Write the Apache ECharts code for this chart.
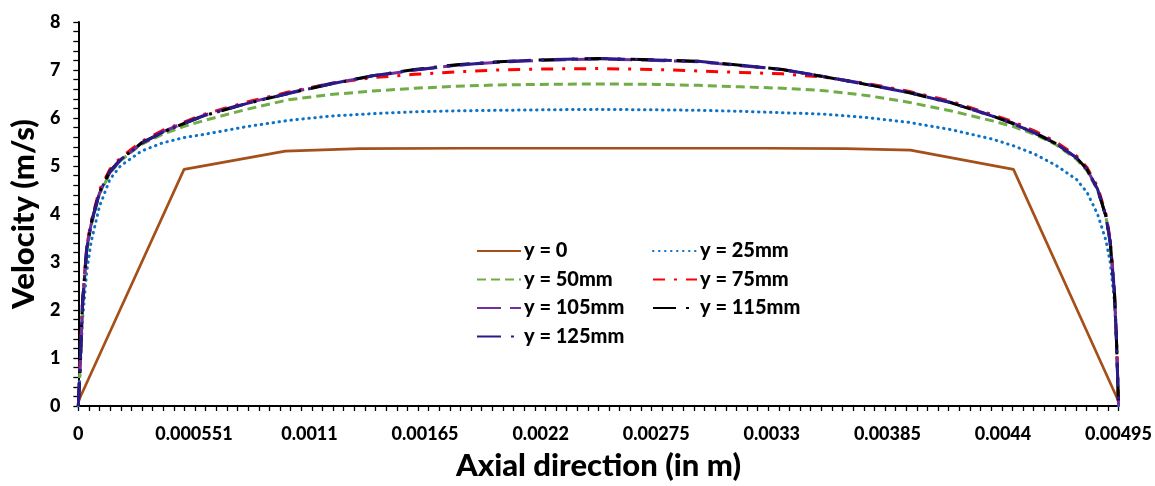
<!DOCTYPE html>
<html>
<head>
<meta charset="utf-8">
<script src="https://cdn.jsdelivr.net/npm/echarts@6/dist/echarts.min.js"></script>
<style>
  html, body { margin: 0; padding: 0; background: #fff; }
  #main { width: 1155px; height: 486px; }
</style>
</head>
<body>
<div id="main"></div>
<script>
// tick labels on the axial axis
var xTickLabels = ['0', '0.000551', '0.0011', '0.00165', '0.0022', '0.00275', '0.0033', '0.00385', '0.0044', '0.00495'];

// y = 0 profile (coarse points)
var xWall = [0, 0.000503, 0.000985, 0.00134, 0.00183, 0.00327, 0.00365, 0.00396, 0.00445, 0.00495];
var v0 = [0.1, 4.93, 5.31, 5.36, 5.37, 5.37, 5.36, 5.33, 4.93, 0.1];

// the other profiles share these x positions
var xs = [0, 0.00001, 0.00002, 0.00004, 0.00006, 0.0001, 0.00015, 0.0002, 0.0003, 0.0004,
  0.0005, 0.0006, 0.0008, 0.001, 0.0012, 0.0014, 0.0016, 0.0018, 0.002, 0.0022,
  0.002475, 0.00275, 0.00295, 0.00315, 0.00335, 0.00355, 0.00375, 0.00395, 0.00415, 0.00435,
  0.00445, 0.00455, 0.00465, 0.00475, 0.0048, 0.00485, 0.00489, 0.00491, 0.00493, 0.00494, 0.00495];

var v25 = [0, 0.85, 1.8, 2.8, 3.4, 4.15, 4.72, 5.0, 5.31, 5.48,
  5.59, 5.66, 5.82, 5.95, 6.04, 6.09, 6.13, 6.15, 6.16, 6.17,
  6.18, 6.17, 6.16, 6.14, 6.11, 6.08, 6.01, 5.91, 5.76, 5.56,
  5.42, 5.25, 5.02, 4.72, 4.45, 4.0, 3.45, 3.0, 2.2, 1.3, 0];
var v50 = [0, 0.95, 2.1, 3.22, 3.74, 4.41, 4.85, 5.11, 5.45, 5.66,
  5.82, 5.95, 6.18, 6.38, 6.49, 6.56, 6.62, 6.66, 6.69, 6.70,
  6.71, 6.70, 6.68, 6.65, 6.62, 6.57, 6.47, 6.33, 6.15, 5.94,
  5.82, 5.66, 5.45, 5.14, 4.9, 4.5, 3.95, 3.4, 2.4, 1.35, 0];
var v75 = [0, 1.05, 2.2, 3.32, 3.83, 4.5, 4.93, 5.17, 5.51, 5.74,
  5.91, 6.08, 6.33, 6.54, 6.72, 6.84, 6.91, 6.96, 7.00, 7.02,
  7.03, 7.01, 6.98, 6.95, 6.92, 6.85, 6.72, 6.56, 6.35, 6.07,
  5.92, 5.73, 5.51, 5.21, 4.97, 4.57, 4.0, 3.48, 2.45, 1.45, 0];
var v105 = [0, 1.0, 2.15, 3.27, 3.77, 4.43, 4.87, 5.12, 5.47, 5.71,
  5.89, 6.06, 6.31, 6.52, 6.72, 6.87, 7.00, 7.10, 7.16, 7.20,
  7.23, 7.20, 7.17, 7.09, 7.01, 6.86, 6.71, 6.54, 6.33, 6.05,
  5.89, 5.70, 5.48, 5.17, 4.93, 4.52, 3.96, 3.43, 2.4, 1.4, 0];
var v115 = [0, 1.02, 2.17, 3.29, 3.79, 4.45, 4.89, 5.13, 5.48, 5.70,
  5.88, 6.05, 6.30, 6.51, 6.71, 6.88, 7.01, 7.11, 7.17, 7.21,
  7.24, 7.21, 7.18, 7.10, 7.01, 6.86, 6.70, 6.53, 6.32, 6.04,
  5.88, 5.69, 5.47, 5.17, 4.93, 4.52, 3.95, 3.42, 2.4, 1.4, 0];
var v125 = [0, 1.0, 2.15, 3.28, 3.78, 4.44, 4.88, 5.13, 5.47, 5.70,
  5.88, 6.05, 6.30, 6.51, 6.71, 6.88, 7.00, 7.10, 7.17, 7.21,
  7.24, 7.21, 7.18, 7.10, 7.01, 6.86, 6.70, 6.53, 6.32, 6.04,
  5.88, 5.69, 5.47, 5.17, 4.93, 4.52, 3.95, 3.42, 2.4, 1.4, 0];

function pairs(x, v) {
  var out = [];
  for (var i = 0; i < x.length; i++) out.push([x[i], v[i]]);
  return out;
}

var font = 'Lato, "Open Sans", sans-serif';
var heavy = 900;

function line(name, x, v, color, type, width, cap) {
  return {
    name: name,
    type: 'line',
    xAxisIndex: 0,
    symbol: 'none',
    smooth: false,
    data: pairs(x, v),
    lineStyle: { color: color, width: width, type: type, cap: cap || 'butt' },
    itemStyle: { color: color }
  };
}

var legendText = { fontFamily: font, fontWeight: heavy, fontSize: 20, lineHeight: 20, color: '#000', padding: [0, 0, 0, -2] };

var myChart = echarts.init(document.getElementById('main'));
var option = {
  animation: false,
  backgroundColor: '#fff',
  grid: { left: 78, right: 34, top: 22, bottom: 79 },
  legend: [
    {
      left: 476, top: 241, orient: 'vertical', padding: 0,
      itemWidth: 44, itemHeight: 14, itemGap: 8.5,
      itemStyle: { opacity: 0 },
      textStyle: legendText,
      data: ['y = 0', 'y = 50mm', 'y = 105mm', 'y = 125mm']
    },
    {
      left: 652, top: 241, orient: 'vertical', padding: 0,
      itemWidth: 44, itemHeight: 14, itemGap: 8.5,
      itemStyle: { opacity: 0 },
      textStyle: legendText,
      data: ['y = 25mm', 'y = 75mm', 'y = 115mm']
    }
  ],
  xAxis: [
    {
      type: 'value', min: 0, max: 0.00495, interval: 0.00055,
      name: 'Axial direction (in m)', nameLocation: 'middle', nameGap: 44,
      nameTextStyle: { fontFamily: font, fontWeight: heavy, fontSize: 31, color: '#000' },
      axisLine: { show: true, onZero: false, lineStyle: { color: '#000', width: 2 } },
      axisTick: { show: false },
      splitLine: { show: false },
      axisLabel: {
        margin: 19, fontFamily: font, fontWeight: heavy, fontSize: 18, color: '#000',
        formatter: function (val) { return xTickLabels[Math.round(val / 0.00055)]; }
      }
    },
    {
      type: 'value', min: 0, max: 0.00495, interval: 0.00495 / 98, position: 'bottom',
      axisLine: { show: false },
      axisTick: { show: true, length: 5, lineStyle: { color: '#000', width: 1.3 } },
      axisLabel: { show: false },
      splitLine: { show: false }
    }
  ],
  yAxis: {
    type: 'value', min: 0, max: 8, interval: 1,
    name: 'Velocity (m/s)', nameLocation: 'middle', nameGap: 37, nameRotate: 90,
    nameTextStyle: { fontFamily: font, fontWeight: heavy, fontSize: 31, color: '#000' },
    axisLine: { show: true, lineStyle: { color: '#000', width: 2 } },
    axisTick: { show: true, length: 5, lineStyle: { color: '#000', width: 1.3 } },
    minorTick: { show: true, splitNumber: 5, length: 5, lineStyle: { color: '#000', width: 1.3 } },
    splitLine: { show: false },
    axisLabel: { margin: 18, fontFamily: font, fontWeight: heavy, fontSize: 18, color: '#000' }
  },
  series: [
    line('y = 0', xWall, v0, '#A5501A', 'solid', 2.7),
    line('y = 25mm', xs, v25, '#0B72C6', [0.5, 5.5], 3, 'round'),
    line('y = 50mm', xs, v50, '#70AD47', [9, 5], 3),
    line('y = 75mm', xs, v75, '#FF0000', [12, 9, 3, 9], 3),
    line('y = 105mm', xs, v105, '#7030A0', [24, 9], 3),
    line('y = 115mm', xs, v115, '#000000', [23, 10, 3, 10], 3),
    line('y = 125mm', xs, v125, '#2B1B8A', [24, 10, 3, 10], 3)
  ]
};
myChart.setOption(option);
</script>
</body>
</html>
